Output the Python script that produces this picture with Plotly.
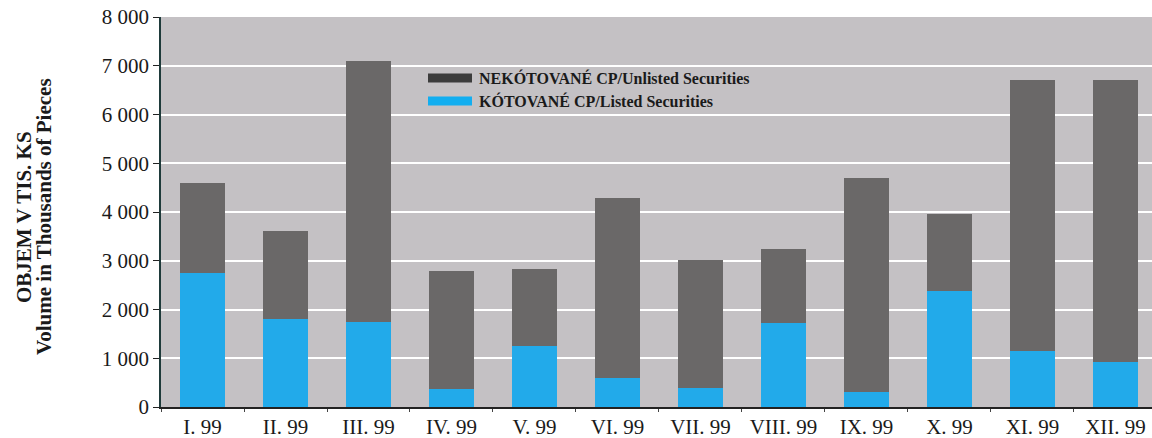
import plotly.graph_objects as go

months = ["I. 99", "II. 99", "III. 99", "IV. 99", "V. 99", "VI. 99",
          "VII. 99", "VIII. 99", "IX. 99", "X. 99", "XI. 99", "XII. 99"]
total = [4600, 3620, 7100, 2800, 2840, 4280, 3020, 3250, 4690, 3950, 6700, 6700]
listed = [2750, 1800, 1750, 370, 1250, 600, 380, 1730, 310, 2370, 1150, 930]
unlisted = [t - l for t, l in zip(total, listed)]

name_unlisted = "NEKÓTOVANÉ CP/Unlisted Securities"
name_listed = "KÓTOVANÉ CP/Listed Securities"
title_line1 = "OBJEM V TIS. KS"
title_line2 = "Volume in Thousands of Pieces"
y_ticks = [0, 1000, 2000, 3000, 4000, 5000, 6000, 7000, 8000]

col_unlisted = "#6a6868"
col_listed = "#22aaea"
serif = "Liberation Serif, Times New Roman, serif"

fig = go.Figure()
fig.add_trace(go.Bar(x=months, y=listed, name=name_listed,
                     marker=dict(color=col_listed, line=dict(width=0)), width=0.55))
fig.add_trace(go.Bar(x=months, y=unlisted, name=name_unlisted,
                     marker=dict(color=col_unlisted, line=dict(width=0)), width=0.55))

W, H = 1152, 438
ml, mr, mt, mb = 161, 0, 17, 31
pw = W - ml - mr
ph = H - mt - mb

def px(x):
    return (x - ml) / pw

def py(y):
    return 1 - (y - mt) / ph

shapes = []
annotations = []
legend_items = [(name_unlisted, "#3c3c3c", 78), (name_listed, "#12aef0", 101)]
for name, col, yc in legend_items:
    shapes.append(dict(type="rect", xref="paper", yref="paper",
                       x0=px(428), x1=px(472), y0=py(yc + 4.5), y1=py(yc - 4.5),
                       fillcolor=col, line=dict(width=0)))
    annotations.append(dict(text=name, xref="paper", yref="paper",
                            x=px(477), y=py(yc), xanchor="left", yanchor="middle",
                            showarrow=False,
                            font=dict(family=serif, size=16, color="#1a1a1a", weight="bold")))

for txt, xc in [(title_line1, 24), (title_line2, 44)]:
    annotations.append(dict(text=txt, xref="paper", yref="paper", x=px(xc), y=py(217),
                            xanchor="center", yanchor="middle", textangle=-90,
                            showarrow=False,
                            font=dict(family=serif, size=21, color="#1a1a1a", weight="bold")))

fig.update_layout(
    width=W, height=H,
    margin=dict(l=ml, r=mr, t=mt, b=mb),
    barmode="stack",
    showlegend=False,
    paper_bgcolor="white",
    plot_bgcolor="#c4c1c4",
    separators=". ",
    font=dict(family=serif, size=21, color="#1a1a1a"),
    shapes=shapes,
    annotations=annotations,
    xaxis=dict(range=[-0.5, 11.44], showgrid=False, showline=True, automargin=False,
               linecolor="#222", linewidth=1.5, ticks="outside", tickson="boundaries",
               ticklen=3, tickcolor="#444", tickfont=dict(size=21)),
    yaxis=dict(range=[0, 8000], tickvals=y_ticks, tickformat=",d", automargin=False,
               showgrid=True, gridcolor="white", gridwidth=2,
               showline=True, linecolor="#1e3a3a", linewidth=1.5,
               ticks="outside", ticklen=6, tickcolor="#222",
               tickfont=dict(size=21), zeroline=False),
)

fig.write_html("out.html", config={"displayModeBar": False},
               post_script="document.body.style.margin='0';document.body.style.overflow='hidden';")
